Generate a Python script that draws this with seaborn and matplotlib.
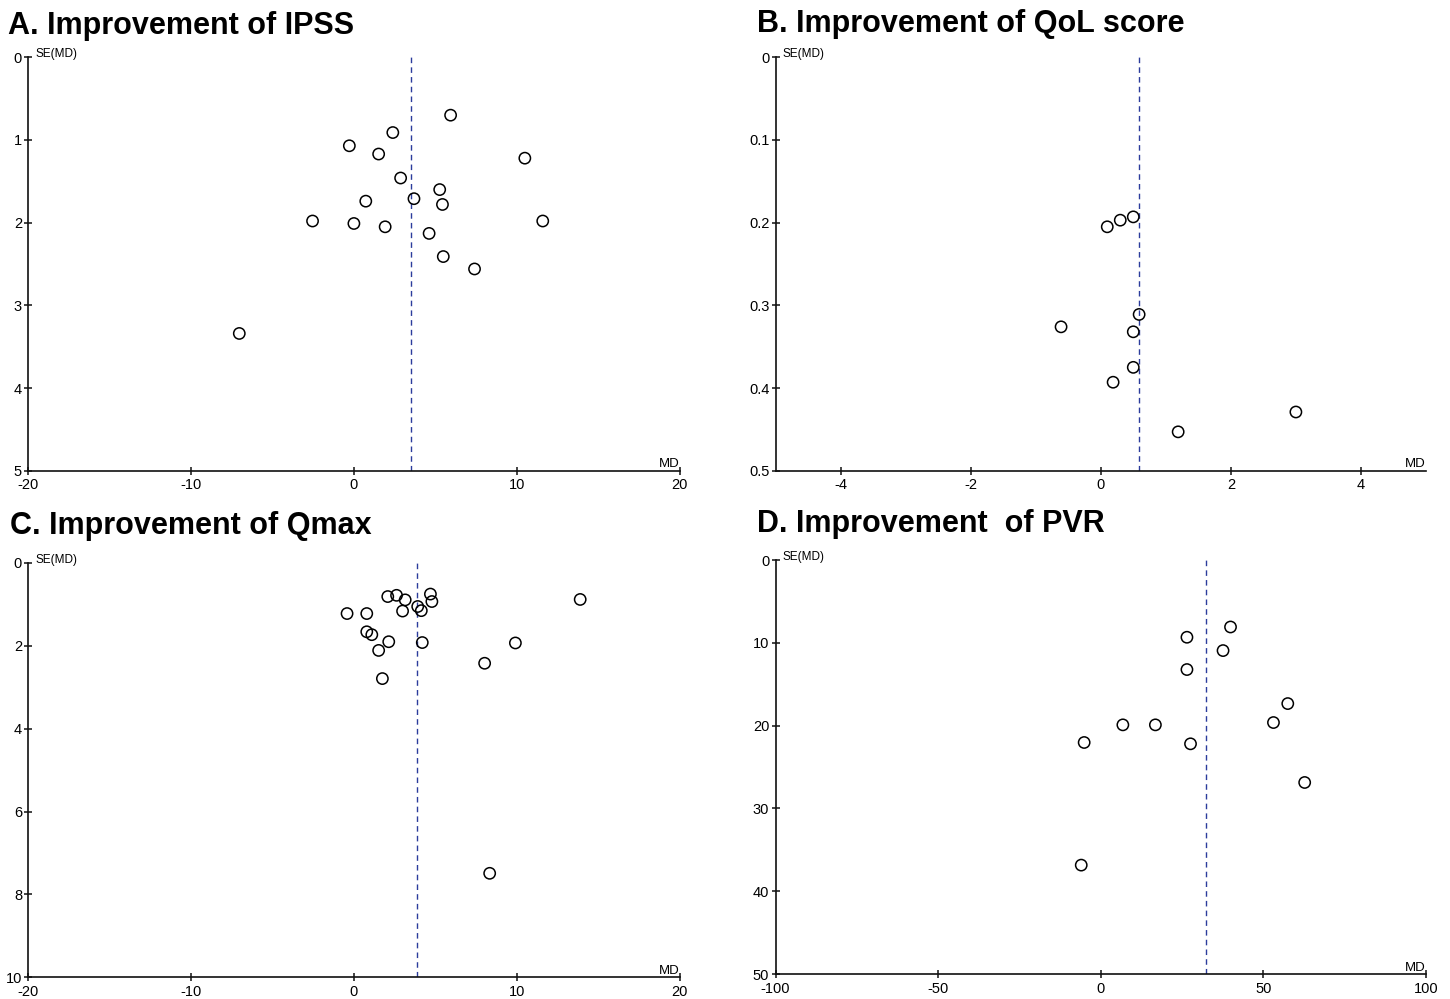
import numpy as np
import matplotlib
matplotlib.use("Agg")
import matplotlib.pyplot as plt
import seaborn as sns

# A. IPSS
ipss_md = [5.94, 2.39, -0.28, 1.52, 10.5, 2.87, 5.27, 3.69, 0.73, 5.44,
           -2.54, 0.0, 1.92, 11.6, 4.62, 5.49, 7.41, -7.04]
ipss_se = [0.70, 0.91, 1.07, 1.17, 1.22, 1.46, 1.60, 1.71, 1.74, 1.78,
           1.98, 2.01, 2.05, 1.98, 2.13, 2.41, 2.56, 3.34]
ipss_pooled = 3.5

# B. QoL score
qol_md = [0.5, 0.3, 0.1, 0.59, -0.61, 0.5, 0.5, 0.19, 3.0, 1.19]
qol_se = [0.193, 0.197, 0.205, 0.311, 0.326, 0.332, 0.375, 0.393, 0.429, 0.453]
qol_pooled = 0.59

# C. Qmax
qmax_md = [-0.42, 0.79, 2.08, 2.62, 3.15, 2.99, 4.70, 4.79, 3.92, 4.14,
           13.9, 0.79, 1.10, 2.14, 1.52, 4.20, 9.92, 8.03, 1.75, 8.34]
qmax_se = [1.22, 1.22, 0.81, 0.78, 0.89, 1.16, 0.75, 0.93, 1.05, 1.15,
           0.88, 1.66, 1.73, 1.90, 2.11, 1.92, 1.93, 2.42, 2.79, 7.49]
qmax_pooled = 3.89

# D. PVR
pvr_md = [39.9, 26.5, 37.6, 26.5, 57.5, 53.1, 6.8, 16.8, -5.1, 27.6, 62.7, -6.0]
pvr_se = [8.09, 9.33, 10.94, 13.23, 17.34, 19.63, 19.91, 19.91, 22.04, 22.2, 26.87, 36.85]
pvr_pooled = 32.5

titles = ["A. Improvement of IPSS", "B. Improvement of QoL score",
          "C. Improvement of Qmax", "D. Improvement  of PVR"]

sns.set_style("ticks")
plt.rcParams['font.family'] = ['Liberation Sans', 'DejaVu Sans']
plt.rcParams['axes.unicode_minus'] = False
plt.rcParams['text.color'] = 'black'

fig = plt.figure(figsize=(14.5, 9.99), dpi=100)

# axes boxes measured in pixels: left, right, top, bottom; title: x, baseline
panels = [
    (ipss_md, ipss_se, ipss_pooled, (-20, 20), np.arange(-20, 21, 10), (0, 5), np.arange(0, 6, 1),
     (28.3, 679.5, 57.3, 470.7), (8, 34)),
    (qol_md, qol_se, qol_pooled, (-5, 5), np.arange(-4, 5, 2), (0, 0.5), np.round(np.arange(0, 0.51, 0.1), 1),
     (775.5, 1426, 57.3, 470.7), (757, 32)),
    (qmax_md, qmax_se, qmax_pooled, (-20, 20), np.arange(-20, 21, 10), (0, 10), np.arange(0, 11, 2),
     (28.3, 679.5, 563, 977.3), (10, 534)),
    (pvr_md, pvr_se, pvr_pooled, (-100, 100), np.arange(-100, 101, 50), (0, 50), np.arange(0, 51, 10),
     (775.5, 1426, 560, 974), (757, 532)),
]

W, H = 1450, 999
for (md, se, pooled, xlim, xticks, ylim, yticks, box, tpos), title in zip(panels, titles):
    l, r, t, b = box
    ax = fig.add_axes([l / W, 1 - b / H, (r - l) / W, (b - t) / H])
    ax.axvline(pooled, color='#2b3c9c', lw=1.0, ls=(0, (4, 3)), zorder=1)
    sns.scatterplot(x=md, y=se, ax=ax, s=66, marker='o', facecolor='none',
                    edgecolor='black', linewidth=1.1, zorder=3, clip_on=False)
    ax.set_xlim(*xlim)
    ax.set_ylim(ylim[1], ylim[0])
    ax.set_xticks(xticks)
    ax.set_yticks(yticks)
    ax.set_yticklabels([f"{v:g}" for v in yticks])
    ax.set_xticklabels([f"{v:g}" for v in xticks])
    sns.despine(ax=ax)
    for sp in ['left', 'bottom']:
        ax.spines[sp].set_linewidth(1.2)
        ax.spines[sp].set_color('#111111')
    ax.tick_params(axis='x', direction='inout', length=6, width=1.1, labelsize=10.5, pad=2.5,
                   colors='#111111', labelcolor='black')
    ax.tick_params(axis='y', direction='inout', length=6, width=1.1, labelsize=10.5, pad=1.5,
                   colors='#111111', labelcolor='black')
    ax.set_xlabel("")
    ax.set_ylabel("")
    ax.annotate("SE(MD)", xy=(0, 1), xycoords='axes fraction', xytext=(5, 0),
                textcoords='offset points', ha='left', va='baseline', fontsize=8.5)
    ax.annotate("MD", xy=(1, 0), xycoords='axes fraction', xytext=(0, 2.5),
                textcoords='offset points', ha='right', va='baseline', fontsize=9.5)
    fig.text(tpos[0] / W, 1 - tpos[1] / H, title, fontsize=22, fontweight='bold',
             ha='left', va='baseline', color='black')

fig.savefig("out.png", dpi=100)
